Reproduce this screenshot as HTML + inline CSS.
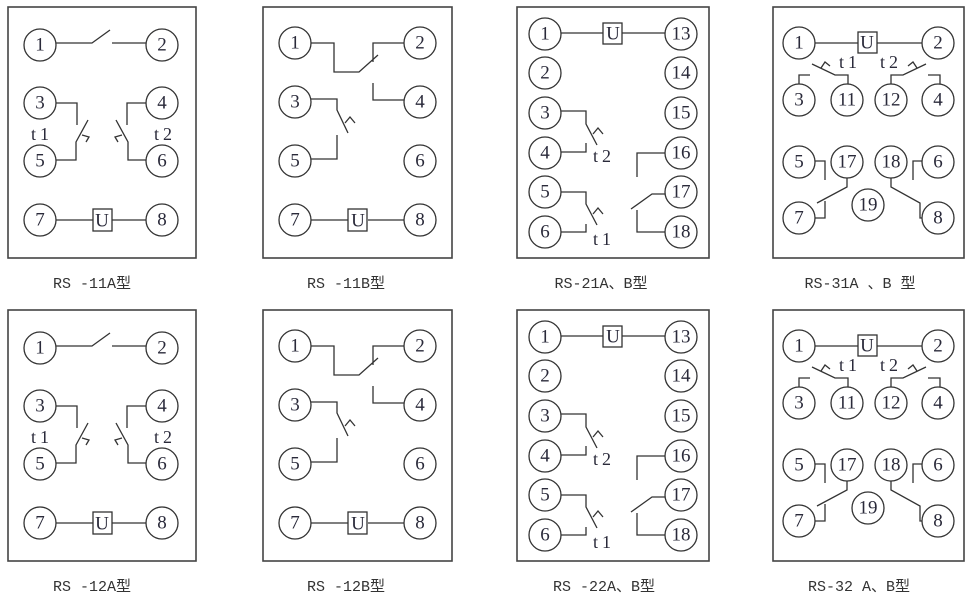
<!DOCTYPE html>
<html><head><meta charset="utf-8"><style>
body{margin:0;background:#fff}
svg{display:block}
text{font-family:"Liberation Serif","Noto Serif CJK SC",serif;fill:#2a2a3a}
.n{font-size:19px;text-anchor:middle;dominant-baseline:central}
.t{font-size:18px;letter-spacing:4px}
.lb{font-size:15px;text-anchor:middle;fill:#333;font-family:"Liberation Mono","Noto Sans CJK SC",monospace}
circle{fill:#fff;stroke:#333;stroke-width:1.3}
path,line{stroke:#333;stroke-width:1.3;fill:none}
rect.b{fill:none;stroke:#444;stroke-width:1.6}
rect.u{fill:#fff;stroke:#333;stroke-width:1.3}
</style></head><body>
<svg width="977" height="605" viewBox="0 0 977 605">
<g>
<rect class="b" x="8" y="7" width="188" height="251"/>
<path d="M56 43H92L110 30M112 43H146"/>
<path d="M56 103H77V125M88 120L76 142V160H56"/><path d="M82 135L89 137L86 142"/>
<path d="M146 103H127V125M116 120L128 142V160H146"/><path d="M122 135L115 137L118 142"/>
<path d="M56 220H93M112 220H146"/><rect class="u" x="93" y="209" width="19" height="22"/>
<text class="n" x="102" y="221">U</text>
<circle cx="40" cy="45" r="16"/><text class="n" x="40" y="45">1</text>
<circle cx="162" cy="45" r="16"/><text class="n" x="162" y="45">2</text>
<circle cx="40" cy="103" r="16"/><text class="n" x="40" y="103">3</text>
<circle cx="162" cy="103" r="16"/><text class="n" x="162" y="103">4</text>
<circle cx="40" cy="161" r="16"/><text class="n" x="40" y="161">5</text>
<circle cx="162" cy="161" r="16"/><text class="n" x="162" y="161">6</text>
<circle cx="40" cy="220" r="16"/><text class="n" x="40" y="220">7</text>
<circle cx="162" cy="220" r="16"/><text class="n" x="162" y="220">8</text>
<text class="t" x="31" y="140">t1</text><text class="t" x="154" y="140">t2</text>
<text class="lb" x="92" y="288">RS -11A型</text>

<rect class="b" x="263" y="7" width="189" height="251"/>
<path d="M311 43H334V72H359L378 55M405 43H373V62M373 83V100H404"/>
<path d="M311 99H337V110L348 133M337 135V159H311"/><path d="M345 123L350 117L355 123"/>
<path d="M311 220H348M368 220H404"/><rect class="u" x="348" y="209" width="19" height="22"/>
<text class="n" x="358" y="221">U</text>
<circle cx="295" cy="43" r="16"/><text class="n" x="295" y="43">1</text>
<circle cx="420" cy="43" r="16"/><text class="n" x="420" y="43">2</text>
<circle cx="295" cy="102" r="16"/><text class="n" x="295" y="102">3</text>
<circle cx="420" cy="102" r="16"/><text class="n" x="420" y="102">4</text>
<circle cx="295" cy="161" r="16"/><text class="n" x="295" y="161">5</text>
<circle cx="420" cy="161" r="16"/><text class="n" x="420" y="161">6</text>
<circle cx="295" cy="220" r="16"/><text class="n" x="295" y="220">7</text>
<circle cx="420" cy="220" r="16"/><text class="n" x="420" y="220">8</text>
<text class="lb" x="346" y="288">RS -11B型</text>

<rect class="b" x="517" y="7" width="192" height="251"/>
<path d="M561 33H603M622 33H665"/><rect class="u" x="603" y="23" width="19" height="21"/>
<text class="n" x="613" y="34">U</text>
<path d="M561 111H586V124L597 145M561 152H586V143"/><path d="M593 134L598 128L603 134"/>
<path d="M561 192H586V204L597 225M561 232H586V224"/><path d="M593 214L598 208L603 214"/>
<path d="M665 153H637V177M665 194H652L631 209M665 232H637V210"/>
<text class="t" x="593" y="162">t2</text><text class="t" x="593" y="245">t1</text>
<circle cx="545" cy="34" r="16"/><text class="n" x="545" y="34">1</text>
<circle cx="545" cy="73" r="16"/><text class="n" x="545" y="73">2</text>
<circle cx="545" cy="113" r="16"/><text class="n" x="545" y="113">3</text>
<circle cx="545" cy="153" r="16"/><text class="n" x="545" y="153">4</text>
<circle cx="545" cy="192" r="16"/><text class="n" x="545" y="192">5</text>
<circle cx="545" cy="232" r="16"/><text class="n" x="545" y="232">6</text>
<circle cx="681" cy="34" r="16"/><text class="n" x="681" y="34">13</text>
<circle cx="681" cy="73" r="16"/><text class="n" x="681" y="73">14</text>
<circle cx="681" cy="113" r="16"/><text class="n" x="681" y="113">15</text>
<circle cx="681" cy="153" r="16"/><text class="n" x="681" y="153">16</text>
<circle cx="681" cy="192" r="16"/><text class="n" x="681" y="192">17</text>
<circle cx="681" cy="232" r="16"/><text class="n" x="681" y="232">18</text>
<text class="lb" x="601" y="288">RS-21A、B型</text>

<rect class="b" x="773" y="7" width="191" height="251"/>
<path d="M815 43H858M877 43H922"/><rect class="u" x="858" y="32" width="19" height="21"/>
<text class="n" x="867" y="43">U</text>
<path d="M812 64L835 75H848V84M799 84V75H810"/><path d="M821 68L825 62L830 66"/>
<path d="M891 84V75H903L926 64M928 75H940V84"/><path d="M908 66L913 62L917 68"/>
<path d="M815 161H825V180M847 178V187L817 203M815 218H825V201"/>
<path d="M891 178V187L920 203V218H924M922 161H913V180"/>
<text class="t" x="839" y="68">t1</text><text class="t" x="880" y="68">t2</text>
<circle cx="799" cy="43" r="16"/><text class="n" x="799" y="43">1</text>
<circle cx="938" cy="43" r="16"/><text class="n" x="938" y="43">2</text>
<circle cx="799" cy="100" r="16"/><text class="n" x="799" y="100">3</text>
<circle cx="847" cy="100" r="16"/><text class="n" x="847" y="100">11</text>
<circle cx="891" cy="100" r="16"/><text class="n" x="891" y="100">12</text>
<circle cx="938" cy="100" r="16"/><text class="n" x="938" y="100">4</text>
<circle cx="799" cy="162" r="16"/><text class="n" x="799" y="162">5</text>
<circle cx="847" cy="162" r="16"/><text class="n" x="847" y="162">17</text>
<circle cx="891" cy="162" r="16"/><text class="n" x="891" y="162">18</text>
<circle cx="938" cy="162" r="16"/><text class="n" x="938" y="162">6</text>
<circle cx="799" cy="218" r="16"/><text class="n" x="799" y="218">7</text>
<circle cx="868" cy="205" r="16"/><text class="n" x="868" y="205">19</text>
<circle cx="938" cy="218" r="16"/><text class="n" x="938" y="218">8</text>
<text class="lb" x="860" y="288">RS-31A 、B 型</text>
</g>

<g transform="translate(0,303)">
<rect class="b" x="8" y="7" width="188" height="251"/>
<path d="M56 43H92L110 30M112 43H146"/>
<path d="M56 103H77V125M88 120L76 142V160H56"/><path d="M82 135L89 137L86 142"/>
<path d="M146 103H127V125M116 120L128 142V160H146"/><path d="M122 135L115 137L118 142"/>
<path d="M56 220H93M112 220H146"/><rect class="u" x="93" y="209" width="19" height="22"/>
<text class="n" x="102" y="221">U</text>
<circle cx="40" cy="45" r="16"/><text class="n" x="40" y="45">1</text>
<circle cx="162" cy="45" r="16"/><text class="n" x="162" y="45">2</text>
<circle cx="40" cy="103" r="16"/><text class="n" x="40" y="103">3</text>
<circle cx="162" cy="103" r="16"/><text class="n" x="162" y="103">4</text>
<circle cx="40" cy="161" r="16"/><text class="n" x="40" y="161">5</text>
<circle cx="162" cy="161" r="16"/><text class="n" x="162" y="161">6</text>
<circle cx="40" cy="220" r="16"/><text class="n" x="40" y="220">7</text>
<circle cx="162" cy="220" r="16"/><text class="n" x="162" y="220">8</text>
<text class="t" x="31" y="140">t1</text><text class="t" x="154" y="140">t2</text>
<text class="lb" x="92" y="288">RS -12A型</text>

<rect class="b" x="263" y="7" width="189" height="251"/>
<path d="M311 43H334V72H359L378 55M405 43H373V62M373 83V100H404"/>
<path d="M311 99H337V110L348 133M337 135V159H311"/><path d="M345 123L350 117L355 123"/>
<path d="M311 220H348M368 220H404"/><rect class="u" x="348" y="209" width="19" height="22"/>
<text class="n" x="358" y="221">U</text>
<circle cx="295" cy="43" r="16"/><text class="n" x="295" y="43">1</text>
<circle cx="420" cy="43" r="16"/><text class="n" x="420" y="43">2</text>
<circle cx="295" cy="102" r="16"/><text class="n" x="295" y="102">3</text>
<circle cx="420" cy="102" r="16"/><text class="n" x="420" y="102">4</text>
<circle cx="295" cy="161" r="16"/><text class="n" x="295" y="161">5</text>
<circle cx="420" cy="161" r="16"/><text class="n" x="420" y="161">6</text>
<circle cx="295" cy="220" r="16"/><text class="n" x="295" y="220">7</text>
<circle cx="420" cy="220" r="16"/><text class="n" x="420" y="220">8</text>
<text class="lb" x="346" y="288">RS -12B型</text>

<rect class="b" x="517" y="7" width="192" height="251"/>
<path d="M561 33H603M622 33H665"/><rect class="u" x="603" y="23" width="19" height="21"/>
<text class="n" x="613" y="34">U</text>
<path d="M561 111H586V124L597 145M561 152H586V143"/><path d="M593 134L598 128L603 134"/>
<path d="M561 192H586V204L597 225M561 232H586V224"/><path d="M593 214L598 208L603 214"/>
<path d="M665 153H637V177M665 194H652L631 209M665 232H637V210"/>
<text class="t" x="593" y="162">t2</text><text class="t" x="593" y="245">t1</text>
<circle cx="545" cy="34" r="16"/><text class="n" x="545" y="34">1</text>
<circle cx="545" cy="73" r="16"/><text class="n" x="545" y="73">2</text>
<circle cx="545" cy="113" r="16"/><text class="n" x="545" y="113">3</text>
<circle cx="545" cy="153" r="16"/><text class="n" x="545" y="153">4</text>
<circle cx="545" cy="192" r="16"/><text class="n" x="545" y="192">5</text>
<circle cx="545" cy="232" r="16"/><text class="n" x="545" y="232">6</text>
<circle cx="681" cy="34" r="16"/><text class="n" x="681" y="34">13</text>
<circle cx="681" cy="73" r="16"/><text class="n" x="681" y="73">14</text>
<circle cx="681" cy="113" r="16"/><text class="n" x="681" y="113">15</text>
<circle cx="681" cy="153" r="16"/><text class="n" x="681" y="153">16</text>
<circle cx="681" cy="192" r="16"/><text class="n" x="681" y="192">17</text>
<circle cx="681" cy="232" r="16"/><text class="n" x="681" y="232">18</text>
<text class="lb" x="604" y="288">RS -22A、B型</text>

<rect class="b" x="773" y="7" width="191" height="251"/>
<path d="M815 43H858M877 43H922"/><rect class="u" x="858" y="32" width="19" height="21"/>
<text class="n" x="867" y="43">U</text>
<path d="M812 64L835 75H848V84M799 84V75H810"/><path d="M821 68L825 62L830 66"/>
<path d="M891 84V75H903L926 64M928 75H940V84"/><path d="M908 66L913 62L917 68"/>
<path d="M815 161H825V180M847 178V187L817 203M815 218H825V201"/>
<path d="M891 178V187L920 203V218H924M922 161H913V180"/>
<text class="t" x="839" y="68">t1</text><text class="t" x="880" y="68">t2</text>
<circle cx="799" cy="43" r="16"/><text class="n" x="799" y="43">1</text>
<circle cx="938" cy="43" r="16"/><text class="n" x="938" y="43">2</text>
<circle cx="799" cy="100" r="16"/><text class="n" x="799" y="100">3</text>
<circle cx="847" cy="100" r="16"/><text class="n" x="847" y="100">11</text>
<circle cx="891" cy="100" r="16"/><text class="n" x="891" y="100">12</text>
<circle cx="938" cy="100" r="16"/><text class="n" x="938" y="100">4</text>
<circle cx="799" cy="162" r="16"/><text class="n" x="799" y="162">5</text>
<circle cx="847" cy="162" r="16"/><text class="n" x="847" y="162">17</text>
<circle cx="891" cy="162" r="16"/><text class="n" x="891" y="162">18</text>
<circle cx="938" cy="162" r="16"/><text class="n" x="938" y="162">6</text>
<circle cx="799" cy="218" r="16"/><text class="n" x="799" y="218">7</text>
<circle cx="868" cy="205" r="16"/><text class="n" x="868" y="205">19</text>
<circle cx="938" cy="218" r="16"/><text class="n" x="938" y="218">8</text>
<text class="lb" x="859" y="288">RS-32 A、B型</text>
</g>
</svg>
</body></html>
